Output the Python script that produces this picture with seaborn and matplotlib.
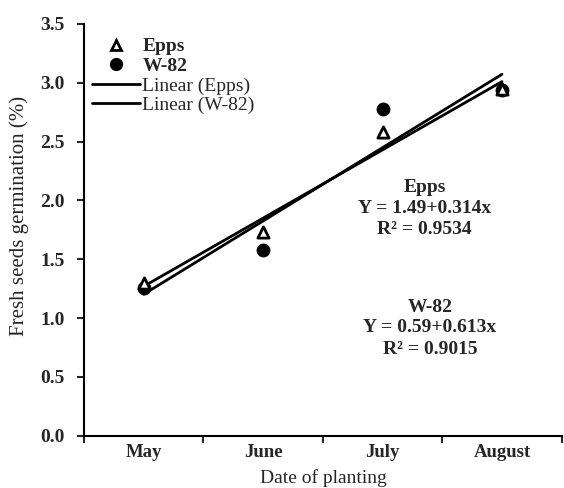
import numpy as np
import pandas as pd
import matplotlib
matplotlib.use("Agg")
import matplotlib.pyplot as plt
import seaborn as sns
from matplotlib.lines import Line2D

months = ["May", "June", "July", "August"]
epps = [1.30, 1.73, 2.58, 2.95]
w82 = [1.26, 1.575, 2.78, 2.935]
y_ticks = [0.0, 0.5, 1.0, 1.5, 2.0, 2.5, 3.0, 3.5]

sns.set_style("white")
plt.rcParams["font.family"] = ["Liberation Serif", "DejaVu Serif"]
plt.rcParams["mathtext.fontset"] = "stix"

xpos = np.arange(len(months))
df = pd.DataFrame({"x": np.concatenate([xpos, xpos]),
                   "y": epps + w82,
                   "variety": ["Epps"] * 4 + ["W-82"] * 4})

fig = plt.figure(figsize=(5.64, 4.88), dpi=100)
ax = fig.add_axes([0.149, 0.107, 0.847, 0.844])

# regression lines
sns.regplot(data=df[df.variety == "Epps"], x="x", y="y", ax=ax, scatter=False,
            ci=None, color="black", line_kws={"lw": 2})
sns.regplot(data=df[df.variety == "W-82"], x="x", y="y", ax=ax, scatter=False,
            ci=None, color="black", line_kws={"lw": 2})

# points
sns.scatterplot(data=df[df.variety == "W-82"], x="x", y="y", ax=ax, marker="o",
                s=85, color="black", edgecolor="black", legend=False, zorder=3)
sns.scatterplot(data=df[df.variety == "Epps"], x="x", y="y", ax=ax, marker="^",
                s=65, facecolor="white", edgecolor="black", linewidth=2,
                legend=False, zorder=4)

ax.set_xlim(-0.5, 3.5)
ax.set_ylim(0, 3.5)
ax.set_xticks(xpos)
ax.set_xticklabels(months, fontweight="bold", fontsize=13.5)
ax.set_xticks(np.arange(-0.5, 3.6, 1.0), minor=True)
ax.tick_params(axis="x", which="major", length=0, pad=6)
ax.tick_params(axis="x", which="minor", length=5, width=1.5, direction="out", bottom=True)
ax.set_yticks(y_ticks)
ax.set_yticklabels([f"{v:.1f}" for v in y_ticks], fontweight="bold", fontsize=14)
ax.tick_params(axis="y", length=5, width=1.5, direction="out", left=True, pad=9)

for s in ["top", "right"]:
    ax.spines[s].set_visible(False)
for s in ["left", "bottom"]:
    ax.spines[s].set_linewidth(1.5)
    ax.spines[s].set_color("black")

ax.set_xlabel("Date of planting", fontsize=14, labelpad=6)
ax.set_ylabel("Fresh seeds germination (%)", fontsize=15)
ax.yaxis.set_label_coords(-0.115, 0.534)

handles = [
    Line2D([], [], marker="^", ls="none", markerfacecolor="white",
           markeredgecolor="black", markeredgewidth=2, markersize=7),
    Line2D([], [], marker="o", ls="none", color="black", markersize=8.5),
    Line2D([], [], color="black", lw=2),
    Line2D([], [], color="black", lw=2),
]
labels = ["Epps", "W-82", "Linear (Epps)", "Linear (W-82)"]
leg = ax.legend(handles, labels, loc="upper left", bbox_to_anchor=(0.0, 0.985),
                frameon=False, fontsize=14, handlelength=2.5, handletextpad=0.1,
                labelspacing=0.1, borderaxespad=0)
for t in leg.get_texts()[:2]:
    t.set_fontweight("bold")

ax.text(0.713, 0.604, "Epps", transform=ax.transAxes, ha="center", va="center",
        fontsize=14, fontweight="bold")
ax.text(0.713, 0.553, "Y = 1.49+0.314x", transform=ax.transAxes, ha="center",
        va="center", fontsize=14, fontweight="bold")
ax.text(0.713, 0.502, "R² = 0.9534", transform=ax.transAxes, ha="center",
        va="center", fontsize=14, fontweight="bold")
ax.text(0.724, 0.311, "W-82", transform=ax.transAxes, ha="center", va="center",
        fontsize=14, fontweight="bold")
ax.text(0.724, 0.262, "Y = 0.59+0.613x", transform=ax.transAxes, ha="center",
        va="center", fontsize=14, fontweight="bold")
ax.text(0.724, 0.209, "R² = 0.9015", transform=ax.transAxes, ha="center",
        va="center", fontsize=14, fontweight="bold")

fig.savefig("out.png", dpi=100)
